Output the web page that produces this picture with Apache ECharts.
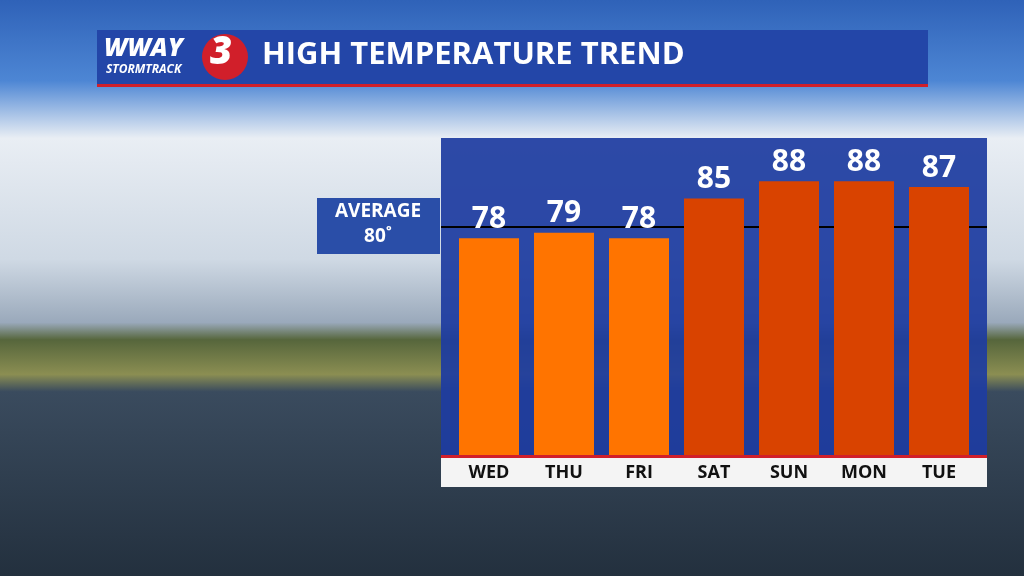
<!DOCTYPE html>
<html lang="en" style="height: 100%">
<head>
  <meta charset="utf-8">
</head>
<body style="height: 100%; margin: 0">
  <div id="container" style="height: 100%"></div>
  <script type="text/javascript" src="https://fastly.jsdelivr.net/npm/echarts@6/dist/echarts.min.js"></script>
  <script type="text/javascript">
    var days = ['WED', 'THU', 'FRI', 'SAT', 'SUN', 'MON', 'TUE'];
    var highs = [78, 79, 78, 85, 88, 88, 87];
    var average = 80;
    var barColors = ['#ff7400', '#ff7400', '#ff7400', '#d94300', '#d94300', '#d94300', '#d94300'];

    var myChart = echarts.init(document.getElementById('container'), null, { renderer: 'canvas' });
    var font = '"Open Sans", "DejaVu Sans", sans-serif';

    var option = {
      animation: false,
      graphic: [
        // sky + water backdrop
        { type: 'rect', z: -10, shape: { x: 0, y: 0, width: 1024, height: 576 },
          style: { fill: new echarts.graphic.LinearGradient(0, 0, 0, 1, [
            { offset: 0, color: '#2f62b8' }, { offset: 0.14, color: '#4d86d4' },
            { offset: 0.24, color: '#e9eef4' }, { offset: 0.45, color: '#cfd9e4' },
            { offset: 0.56, color: '#9aa9bb' }, { offset: 0.59, color: '#56663c' },
            { offset: 0.65, color: '#8b8e52' }, { offset: 0.68, color: '#3a4b5e' },
            { offset: 1, color: '#23303e' }]) } },
        // title banner
        { type: 'rect', z: 1, shape: { x: 97, y: 30, width: 831, height: 54 }, style: { fill: '#2346a8' } },
        { type: 'rect', z: 1, shape: { x: 97, y: 84, width: 831, height: 3 }, style: { fill: '#d11f2a' } },
        { type: 'text', z: 2, left: 104, top: 36, style: { text: 'WWAY', fill: '#fff', font: 'italic 900 25px ' + font } },
        { type: 'text', z: 2, left: 106, top: 64, style: { text: 'STORMTRACK', fill: '#fff', font: 'italic bold 12px ' + font } },
        { type: 'circle', z: 2, shape: { cx: 225, cy: 57, r: 23 }, style: { fill: '#d11f2a' } },
        { type: 'text', z: 3, left: 210, top: 34, style: { text: '3', fill: '#fff', font: 'italic 900 38px ' + font } },
        { type: 'text', z: 2, left: 262, top: 40, style: { text: 'HIGH TEMPERATURE TREND', fill: '#fff', font: 'bold 31px ' + font } },
        // chart panel
        { type: 'rect', z: -5, shape: { x: 441, y: 138, width: 546, height: 320 }, style: { fill: 'rgba(30,60,160,0.93)' } },
        { type: 'rect', z: -5, shape: { x: 441, y: 457, width: 546, height: 30 }, style: { fill: '#f4f4f4' } },
        { type: 'rect', z: 5, shape: { x: 441, y: 455, width: 546, height: 3 }, style: { fill: '#d11f2a' } },
        // average label
        { type: 'rect', z: 1, shape: { x: 317, y: 198, width: 123, height: 56 }, style: { fill: '#2a4ea8' } },
        { type: 'text', z: 2, x: 378, y: 202, style: { text: 'AVERAGE', align: 'center', fill: '#fff', font: 'bold 19px ' + font } },
        { type: 'text', z: 2, x: 378, y: 227, style: { text: average + '˚', align: 'center', fill: '#fff', font: 'bold 19px ' + font } }
      ],
      grid: { left: 451.5, right: 47.5, top: 138, bottom: 121 },
      xAxis: {
        type: 'category',
        data: days,
        axisLine: { show: false },
        axisTick: { show: false },
        axisLabel: { color: '#111', fontFamily: font, fontWeight: 'bold', fontSize: 18, margin: 9 }
      },
      yAxis: { type: 'value', min: 40, max: 95.6, show: false, splitLine: { show: false } },
      series: [{
        type: 'bar',
        barWidth: 60,
        data: highs.map(function (v, i) { return { value: v, itemStyle: { color: barColors[i] } }; }),
        label: { show: true, position: 'top', distance: 4, color: '#fff', fontFamily: font, fontWeight: 'bold', fontSize: 30 },
        markLine: {
          symbol: 'none', silent: true, z: 0,
          label: { show: false },
          lineStyle: { color: '#000', width: 2, type: 'solid' },
          data: [[{ yAxis: average, x: 441 }, { yAxis: average, x: 987 }]]
        }
      }]
    };
    myChart.setOption(option);
    window.addEventListener('resize', myChart.resize);
  </script>
</body>
</html>
